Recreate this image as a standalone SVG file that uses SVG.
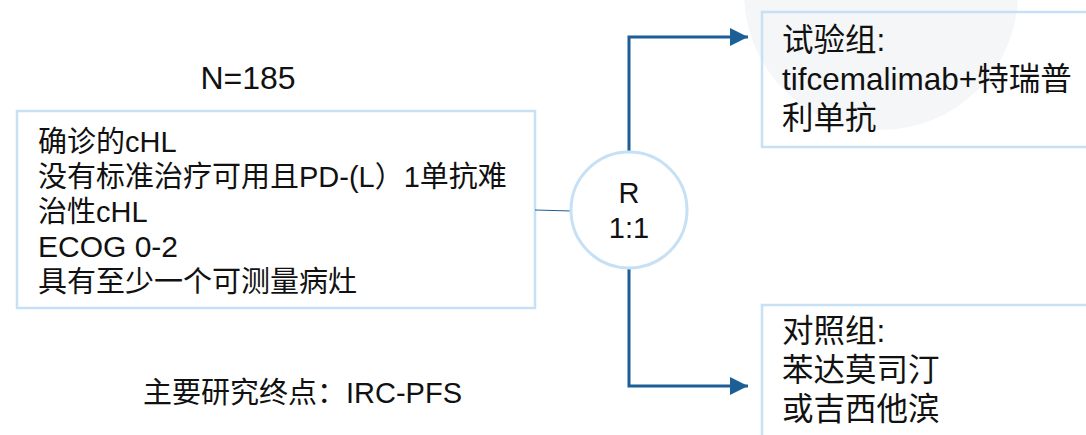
<svg xmlns="http://www.w3.org/2000/svg" width="1086" height="435" viewBox="0 0 1086 435">
<style>
text{font-family:"Liberation Sans","Noto Sans CJK SC",sans-serif;fill:#111;}
.box{fill:none;stroke:#c6e0f5;stroke-width:2.5;}
.t29{font-size:29px;}
.t30{font-size:30px;}
.t31{font-size:31.5px;}
.conn{fill:none;stroke:#1c5f97;stroke-width:3;}
</style>
<defs>
<marker id="ah" markerWidth="6" markerHeight="6" refX="5" refY="2.5" orient="auto" markerUnits="strokeWidth" viewBox="0 0 5 5">
<path d="M0,0 L5,2.5 L0,5 Z" fill="#1c5f97"/>
</marker>
</defs>
<rect width="1086" height="435" fill="#fff"/>
<circle cx="881" cy="-7" r="137" fill="#f5f6f8"/>
<g id="n185"><text x="248" y="89" text-anchor="middle" font-size="32">N=185</text></g>
<g id="criteria">
<rect class="box" x="17" y="111" width="518" height="197"/>
<text class="t29" x="38" y="152">确诊的cHL</text>
<text class="t29" x="38" y="187">没有标准治疗可用且PD-(L）1单抗难</text>
<text class="t29" x="38" y="222">治性cHL</text>
<text class="t30" x="38" y="257">ECOG 0-2</text>
<text class="t29" x="38" y="292">具有至少一个可测量病灶</text>
</g>
<g id="connectors">
<line x1="535" y1="210" x2="572" y2="211" stroke="#1c5f97" stroke-width="1.2"/>
<path class="conn" d="M629,151 V37 H748" marker-end="url(#ah)"/>
<path class="conn" d="M629,269 V386 H748" marker-end="url(#ah)"/>
</g>
<g id="randomize">
<circle cx="629" cy="210" r="58" fill="#fff" stroke="#c6e0f5" stroke-width="3"/>
<text class="t29" x="629" y="203" text-anchor="middle">R</text>
<text class="t29" x="629" y="238" text-anchor="middle">1:1</text>
</g>
<g id="exp">
<rect class="box" x="762" y="12" width="340" height="135"/>
<text class="t31" x="782" y="51">试验组:</text>
<text class="t31" x="782" y="90">tifcemalimab+特瑞普</text>
<text class="t31" x="782" y="129">利单抗</text>
</g>
<g id="ctrl">
<rect class="box" x="762" y="305" width="340" height="150"/>
<text class="t31" x="782" y="342">对照组:</text>
<text class="t31" x="782" y="381">苯达莫司汀</text>
<text class="t31" x="782" y="420">或吉西他滨</text>
</g>
<g id="endpoint"><text class="t29" x="143" y="403">主要研究终点：IRC-PFS</text></g>
</svg>
